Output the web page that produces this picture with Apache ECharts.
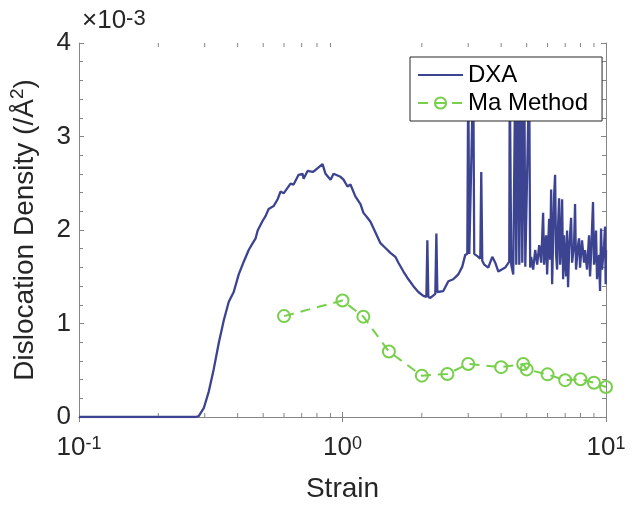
<!DOCTYPE html>
<html>
<head>
<meta charset="utf-8">
<script src="https://cdn.jsdelivr.net/npm/echarts@6/dist/echarts.min.js"></script>
<style>html,body{margin:0;padding:0;background:#fff}#c{width:636px;height:508px}</style>
</head>
<body>
<div id="c"></div>
<script>
// Density values are in units of 10^-3 /Å^2
const dxaStrain = [0.1,0.1816,0.2773,0.2846,0.2975,0.3108,0.3246,0.3393,0.3544,0.3702,0.3865,0.4038,0.4219,0.4406,0.4563,0.4681,0.4765,0.4978,0.5110,0.5244,0.5479,0.5673,0.5823,0.5979,0.6352,0.6521,0.6814,0.7056,0.7119,0.7370,0.7700,0.7905,0.8044,0.8400,0.8622,0.9009,0.9248,0.9828,1.0089,1.0445,1.072,1.119,1.170,1.201,1.2436,1.277,1.334,1.393,1.4555,1.520,1.587,1.630,1.703,1.779,1.858,1.940,2.027,2.081,2.099,2.117,2.155,2.250,2.271,2.290,2.412,2.522,2.633,2.750,2.848,2.923,2.976,3.001,3.028,3.135,3.162,3.276,3.334,3.362,3.392,3.452,3.574,3.702,3.800,3.903,4.145,4.293,4.313,4.369,4.446,4.524,4.565,4.645,4.687,4.769,4.811,4.897,4.940,5.110,5.155,5.200,5.292,5.386,5.481,5.578,5.676,5.772,5.823,5.926,5.978,6.084,6.138,6.191,6.246,6.353,6.409,6.465,6.523,6.579,6.638,6.697,6.756,6.816,6.875,6.933,6.993,7.055,7.117,7.179,7.243,7.371,7.436,7.564,7.631,7.697,7.833,7.902,7.971,8.110,8.254,8.326,8.473,8.623,8.699,8.776,8.927,9.007,9.085,9.166,9.247,9.410,9.493,9.577,9.662,9.833,9.919,9.97,10.0];
const dxaDensity = [0,0,0,0.01,0.094,0.272,0.512,0.794,1.034,1.232,1.337,1.525,1.661,1.786,1.859,1.911,1.995,2.099,2.151,2.225,2.256,2.329,2.413,2.392,2.496,2.486,2.590,2.601,2.548,2.632,2.621,2.642,2.653,2.705,2.601,2.538,2.601,2.569,2.538,2.465,2.486,2.360,2.277,2.183,2.131,2.089,1.974,1.859,1.807,1.755,1.713,1.650,1.556,1.473,1.399,1.337,1.295,1.285,1.890,1.285,1.274,1.316,1.963,1.337,1.347,1.452,1.473,1.525,1.608,1.734,1.744,3.7,1.744,3.7,1.744,1.713,1.692,2.621,1.671,1.629,1.598,1.713,1.650,1.556,1.598,1.661,3.7,1.629,1.525,3.7,1.629,3.7,1.629,3.7,1.650,3.7,1.608,3.7,1.598,1.713,1.577,1.786,1.629,1.838,1.650,2.183,1.629,1.943,1.525,2.120,1.681,2.433,1.420,2.360,2.590,1.734,1.577,2.047,2.339,1.629,1.838,2.329,1.473,1.943,1.681,1.504,1.995,1.389,1.786,2.131,1.650,1.838,2.277,1.577,1.838,1.911,1.598,1.890,1.650,1.786,1.577,1.943,1.504,1.734,2.298,1.629,1.734,1.995,1.473,1.734,1.347,2.016,1.577,1.838,2.037,1.420,1.786];
const maStrain = [0.6,1.0,1.2,1.5,2.0,2.5,3.0,4.0,4.85,5.0,6.0,7.0,8.0,9.0,10.0];
const maDensity = [1.079,1.246,1.073,0.700,0.442,0.460,0.567,0.533,0.567,0.509,0.456,0.394,0.404,0.366,0.321];
const yTicks = [0,1,2,3,4];
const xMinorTicks = [0.2,0.3,0.4,0.5,0.6,0.7,0.8,0.9,2,3,4,5,6,7,8,9];

const FONT = '"Liberation Sans", Arial, Helvetica, sans-serif';
const TXT = '#262626';
const AX = '#858585';
const BLUE = '#3c4391';
const GREEN = '#77cf4b';

const chart = echarts.init(document.getElementById('c'), null, {renderer:'canvas'});
const supRich = {
  b:{fontSize:26, fontFamily:FONT, color:TXT, lineHeight:32, verticalAlign:'top'},
  s:{fontSize:18, fontFamily:FONT, color:TXT, lineHeight:12, verticalAlign:'top'}
};
const axisCommon = {
  axisLine:{show:true, lineStyle:{color:AX, width:1}},
  axisTick:{show:true, inside:true, length:5, lineStyle:{color:AX}},
  splitLine:{show:false}
};
chart.setOption({
  animation:false,
  backgroundColor:'#fff',
  grid:{left:78, right:30, top:43, bottom:83, containLabel:false},
  graphic:[{
    type:'text', left:82, top:8, z:10,
    style:{
      text:'{b|×10}{s|-3}',
      rich:{
        b:{fontSize:26, fontFamily:FONT, fill:TXT, lineHeight:34, verticalAlign:'top'},
        s:{fontSize:22, fontFamily:FONT, fill:TXT, lineHeight:18, verticalAlign:'top'}
      }
    }
  }],
  legend:{
    data:[{name:'DXA', itemStyle:{opacity:0}}, 'Ma Method'],
    orient:'vertical', left:410, top:57,
    backgroundColor:'#fff', borderColor:'#262626', borderWidth:1, borderRadius:0,
    padding:[5,14,5,7], itemGap:2, itemWidth:45, itemHeight:14,
    textStyle:{fontSize:24, lineHeight:26, fontFamily:FONT, color:'#000'}
  },
  xAxis:[
    Object.assign({type:'log', logBase:10, min:0.1, max:10, position:'bottom',
      name:'Strain', nameLocation:'middle', nameGap:58,
      nameTextStyle:{fontSize:28, fontFamily:FONT, color:TXT},
      axisLabel:{margin:18, formatter:v => '{b|10}{s|' + Math.round(Math.log10(v)) + '}', rich:supRich}
    }, axisCommon),
    Object.assign({type:'log', logBase:10, min:0.1, max:10, position:'top', axisLabel:{show:false}}, axisCommon)
  ],
  yAxis:[
    Object.assign({type:'value', min:0, max:4, interval:1, position:'left',
      name:'Dislocation Density (/Å{s|2})', nameLocation:'middle', nameGap:37, nameRotate:90,
      nameTextStyle:{fontSize:28, lineHeight:34, fontFamily:FONT, color:TXT,
        rich:{s:{fontSize:19, fontFamily:FONT, color:TXT, verticalAlign:'top', lineHeight:14}}},
      axisLabel:{fontSize:26, fontFamily:FONT, color:TXT, margin:8, formatter:v => String(v)},
      minorTick:{show:true, splitNumber:5, length:4, lineStyle:{color:AX}}
    }, axisCommon),
    Object.assign({type:'value', min:0, max:4, interval:1, position:'right', axisLabel:{show:false},
      minorTick:{show:true, splitNumber:5, length:4, lineStyle:{color:AX}}
    }, axisCommon)
  ],
  series:[
    {
      name:'DXA', type:'line', xAxisIndex:0, yAxisIndex:0,
      data: dxaStrain.map((x,i) => [x, dxaDensity[i]]),
      showSymbol:false, symbol:'none',
      lineStyle:{color:BLUE, width:2.3}, itemStyle:{color:BLUE}, z:3
    },
    {
      name:'Ma Method', type:'line', xAxisIndex:0, yAxisIndex:0,
      data: maStrain.map((x,i) => [x, maDensity[i]]),
      symbol:'circle', symbolSize:12,
      lineStyle:{color:GREEN, width:2, type:[10,7]},
      itemStyle:{color:'rgba(255,255,255,0)', borderColor:GREEN, borderWidth:2}, z:4
    },
    {
      name:'minorTicks', type:'custom', xAxisIndex:0, yAxisIndex:0, silent:true,
      data: xMinorTicks.map(v => [v, 0]),
      renderItem:(params, api) => {
        const x = api.coord([api.value(0), 0])[0];
        const cs = params.coordSys;
        return {type:'group', children:[
          {type:'line', shape:{x1:x, y1:cs.y+cs.height, x2:x, y2:cs.y+cs.height-4}, style:{stroke:AX, lineWidth:1}},
          {type:'line', shape:{x1:x, y1:cs.y, x2:x, y2:cs.y+4}, style:{stroke:AX, lineWidth:1}}
        ]};
      }
    }
  ]
});
</script>
</body>
</html>
